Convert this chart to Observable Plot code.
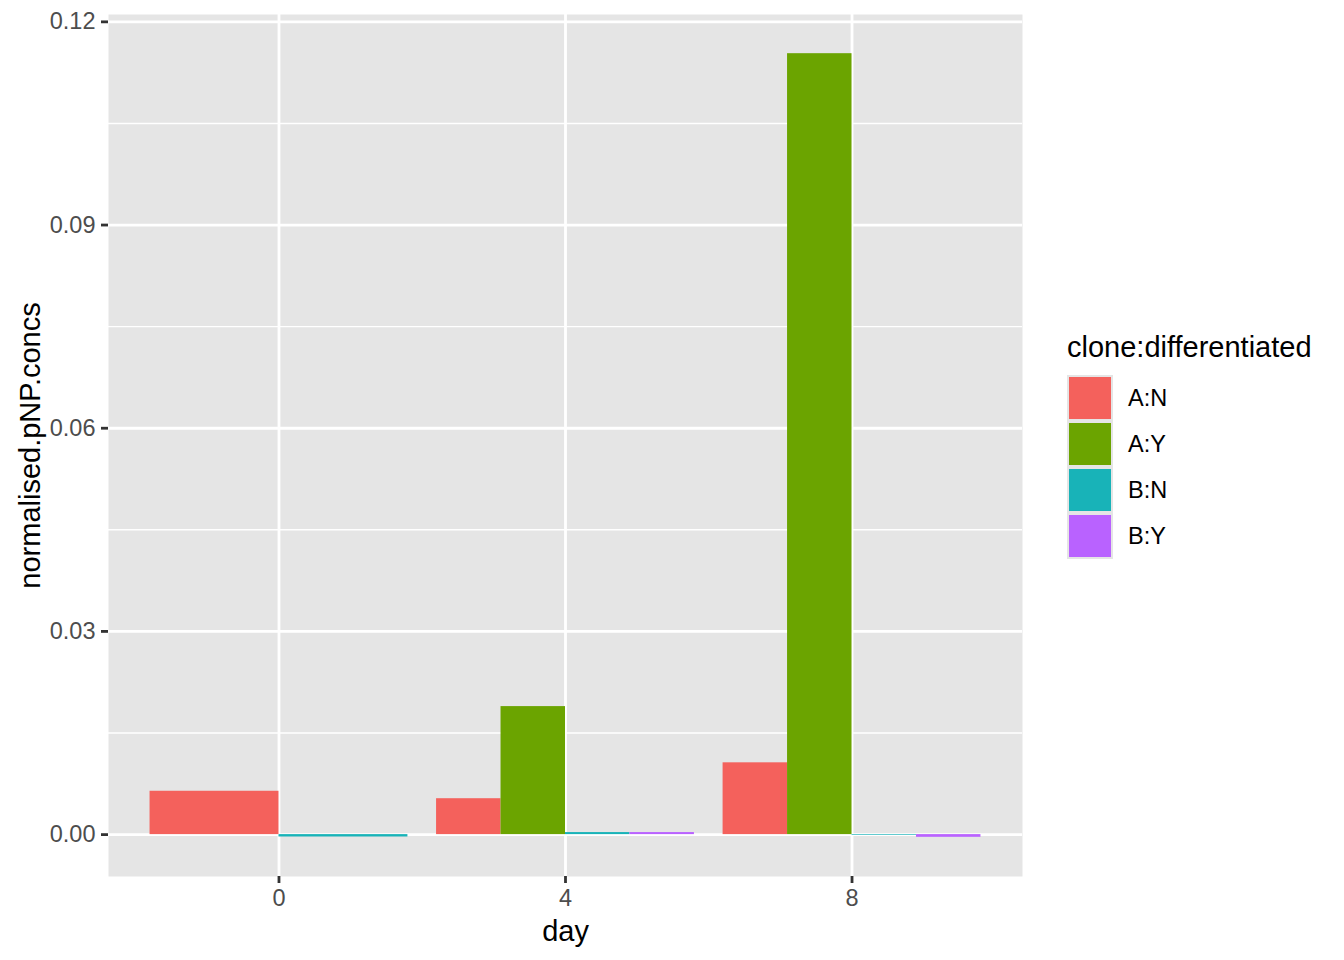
<!DOCTYPE html>
<html>
<head>
<meta charset="utf-8">
<script src="https://cdn.jsdelivr.net/npm/d3@7"></script>
<script src="https://cdn.jsdelivr.net/npm/@observablehq/plot@0.6"></script>
<style>
  html, body { margin: 0; padding: 0; background: #fff; }
  #wrap { position: relative; width: 1344px; height: 960px; font-family: "Liberation Sans", Arial, Helvetica, sans-serif; }
  #legend { position: absolute; left: 1067px; top: 330px; }
  #legend .title { font-size: 29px; color: #000; line-height: 34px; margin-bottom: 11px; white-space: nowrap; }
  #legend .row { display: flex; align-items: center; height: 46px; }
  #legend .key { width: 46px; height: 46px; background: #e5e5e5; box-sizing: border-box; padding: 2px; }
  #legend .key div { width: 100%; height: 100%; }
  #legend .lab { font-size: 23.5px; color: #000; margin-left: 15px; }
</style>
</head>
<body>
<div id="wrap"></div>
<script>
// ---- data ----
const days   = [0, 0, 4, 4, 4, 4, 8, 8, 8, 8];
const groups = ["A:N", "B:N", "A:N", "A:Y", "B:N", "B:Y", "A:N", "A:Y", "B:N", "B:Y"];
const values = [0.0064, -0.00035, 0.0053, 0.0189, 0.0003, 0.0003, 0.0106, 0.1153, -0.0001, -0.0004];

const categories = ["A:N", "A:Y", "B:N", "B:Y"];
const colors = ["#F4615C", "#6BA400", "#18B3B8", "#B962FF"];
const xTicks = [0, 4, 8];
const yTicks = [0, 0.03, 0.06, 0.09, 0.12];
const yMinor = [0.015, 0.045, 0.075, 0.105];

// ---- dodge (ggplot position_dodge, width = 0.9 * resolution) ----
const dodgeWidth = 0.9 * 4;
const rows = days.map((d, i) => ({day: d, group: groups[i], value: values[i]}));
const byDay = d3.group(rows, r => r.day);
for (const [day, rs] of byDay) {
  rs.sort((a, b) => categories.indexOf(a.group) - categories.indexOf(b.group));
  const w = dodgeWidth / rs.length;
  rs.forEach((r, i) => { r.x1 = day - dodgeWidth / 2 + i * w; r.x2 = r.x1 + w; });
}

// scale domains with ggplot's 5% expansion
const xmin = d3.min(rows, r => r.x1), xmax = d3.max(rows, r => r.x2);
const xpad = (xmax - xmin) * 0.05;
const ymin = Math.min(0, d3.min(values)), ymax = Math.max(0, d3.max(values));
const ypad = (ymax - ymin) * 0.05;

const font = "Liberation Sans, Arial, Helvetica, sans-serif";

const plot = Plot.plot({
  width: 1344,
  height: 960,
  marginLeft: 108,
  marginRight: 322,
  marginTop: 14,
  marginBottom: 84,
  style: {fontFamily: font, background: "#fff", overflow: "visible"},
  x: {type: "linear", domain: [xmin - xpad, xmax + xpad]},
  y: {type: "linear", domain: [ymin - ypad, ymax + ypad]},
  color: {domain: categories, range: colors},
  marks: [
    Plot.frame({fill: "#e5e5e5", stroke: null}),
    Plot.ruleY(yMinor, {stroke: "#fff", strokeWidth: 1.4}),
    Plot.ruleY(yTicks, {stroke: "#fff", strokeWidth: 2.8}),
    Plot.ruleX(xTicks, {stroke: "#fff", strokeWidth: 2.8}),
    Plot.rectY(rows, {x1: "x1", x2: "x2", y: "value", fill: "group", inset: 0}),
    Plot.axisY(yTicks, {tickSize: 7, tickPadding: 6, strokeWidth: 2.8, stroke: "#333", fill: "#4d4d4d",
      fontSize: 23.5, tickFormat: d3.format(".2f"), label: null}),
    Plot.axisX(xTicks, {tickSize: 7, tickPadding: 6, strokeWidth: 2.8, stroke: "#333", fill: "#4d4d4d",
      fontSize: 23.5, tickFormat: d => String(d), label: null}),
    Plot.text(["day"], {frameAnchor: "bottom", dy: 55, fontSize: 29, fill: "#000", lineAnchor: "middle", textAnchor: "middle"}),
    Plot.text(["normalised.pNP.concs"], {frameAnchor: "left", dx: -78, rotate: -90, fontSize: 29, fill: "#000", lineAnchor: "middle", textAnchor: "middle"})
  ]
});

const wrap = document.getElementById("wrap");
wrap.appendChild(plot);

// ---- legend (right side, as in ggplot) ----
const leg = d3.select(wrap).append("div").attr("id", "legend");
leg.append("div").attr("class", "title").text("clone:differentiated");
const rowSel = leg.selectAll(".row").data(categories).join("div").attr("class", "row");
rowSel.append("div").attr("class", "key").append("div").style("background", (d, i) => colors[i]);
rowSel.append("div").attr("class", "lab").text(d => d);
</script>
</body>
</html>
